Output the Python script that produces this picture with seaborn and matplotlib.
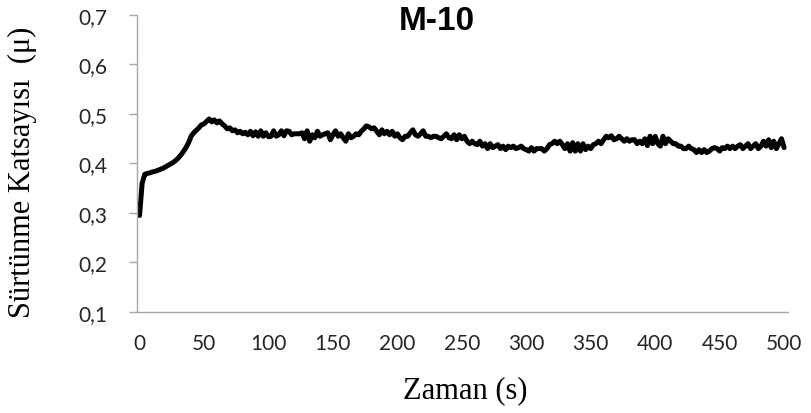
import numpy as np
import pandas as pd
import seaborn as sns
import matplotlib.pyplot as plt

# zaman (s), 2 s aralik
TIME_S = list(range(0, 502, 2))

# surtunme katsayisi, okunan degerler (her satir 50 s)
MU_0_48 = [0.295, 0.360, 0.378, 0.380, 0.381, 0.383, 0.384, 0.386, 0.388, 0.390,
           0.393, 0.396, 0.399, 0.402, 0.406, 0.411, 0.417, 0.424, 0.432, 0.442,
           0.455, 0.462, 0.467, 0.472, 0.478]
MU_50_98 = [0.480, 0.485, 0.490, 0.484, 0.488, 0.482, 0.486, 0.480, 0.476, 0.470,
            0.472, 0.466, 0.468, 0.462, 0.465, 0.460, 0.463, 0.458, 0.465, 0.456,
            0.464, 0.455, 0.466, 0.455, 0.462]
MU_100_148 = [0.454, 0.455, 0.466, 0.455, 0.458, 0.466, 0.456, 0.466, 0.465, 0.458,
              0.460, 0.460, 0.460, 0.462, 0.450, 0.466, 0.445, 0.458, 0.452, 0.465,
              0.455, 0.458, 0.460, 0.462, 0.448]
MU_150_198 = [0.458, 0.466, 0.455, 0.460, 0.452, 0.445, 0.460, 0.452, 0.455, 0.460,
              0.458, 0.465, 0.470, 0.476, 0.474, 0.470, 0.472, 0.465, 0.458, 0.468,
              0.460, 0.465, 0.458, 0.465, 0.455]
MU_200_248 = [0.460, 0.452, 0.448, 0.455, 0.455, 0.462, 0.468, 0.458, 0.455, 0.460,
              0.466, 0.455, 0.455, 0.452, 0.455, 0.455, 0.452, 0.450, 0.455, 0.460,
              0.452, 0.450, 0.458, 0.448, 0.458]
MU_250_298 = [0.450, 0.455, 0.445, 0.440, 0.445, 0.440, 0.438, 0.445, 0.435, 0.440,
              0.430, 0.440, 0.432, 0.435, 0.438, 0.430, 0.435, 0.428, 0.435, 0.432,
              0.435, 0.430, 0.432, 0.435, 0.430]
MU_300_348 = [0.428, 0.425, 0.432, 0.425, 0.430, 0.430, 0.430, 0.425, 0.430, 0.438,
              0.440, 0.445, 0.440, 0.445, 0.438, 0.430, 0.440, 0.425, 0.442, 0.425,
              0.440, 0.425, 0.440, 0.428, 0.435]
MU_350_398 = [0.430, 0.438, 0.440, 0.445, 0.440, 0.448, 0.455, 0.452, 0.456, 0.448,
              0.450, 0.455, 0.450, 0.445, 0.450, 0.445, 0.448, 0.448, 0.440, 0.445,
              0.440, 0.450, 0.436, 0.455, 0.440]
MU_400_448 = [0.455, 0.440, 0.435, 0.455, 0.440, 0.450, 0.445, 0.440, 0.440, 0.435,
              0.435, 0.430, 0.430, 0.435, 0.430, 0.428, 0.422, 0.428, 0.422, 0.428,
              0.422, 0.425, 0.430, 0.432, 0.430]
MU_450_500 = [0.425, 0.432, 0.430, 0.435, 0.430, 0.435, 0.430, 0.435, 0.438, 0.430,
              0.435, 0.440, 0.430, 0.435, 0.440, 0.430, 0.435, 0.445, 0.435, 0.448,
              0.432, 0.445, 0.430, 0.440, 0.450, 0.432]

MU = (MU_0_48 + MU_50_98 + MU_100_148 + MU_150_198 + MU_200_248
      + MU_250_298 + MU_300_348 + MU_350_398 + MU_400_448 + MU_450_500)

X_TICKS = [0, 50, 100, 150, 200, 250, 300, 350, 400, 450, 500]
Y_TICKS = [0.1, 0.2, 0.3, 0.4, 0.5, 0.6, 0.7]
Y_TICK_LABELS = ["0,1", "0,2", "0,3", "0,4", "0,5", "0,6", "0,7"]

df = pd.DataFrame({"zaman": TIME_S, "mu": MU})

sns.set_theme(style="white")
plt.rcParams["font.family"] = ["Lato", "DejaVu Sans"]

fig = plt.figure(figsize=(8.11, 4.14), dpi=100)
ax = fig.add_axes([0.1689, 0.2440, 0.8027, 0.7174])

sns.lineplot(data=df, x="zaman", y="mu", ax=ax, color="black", linewidth=3.6)

ax.set_xlim(-2, 503)
ax.set_ylim(0.1, 0.7)
ax.set_xticks(X_TICKS)
ax.set_yticks(Y_TICKS)
ax.set_yticklabels(Y_TICK_LABELS)

for side in ["top", "right"]:
    ax.spines[side].set_visible(False)
for side in ["left", "bottom"]:
    ax.spines[side].set_color("#a6a6a6")
    ax.spines[side].set_linewidth(1.0)

ax.tick_params(axis="x", length=0, pad=15, labelsize=15, labelcolor="#262626")
ax.tick_params(axis="y", length=6, width=1, color="#a6a6a6", direction="out",
               pad=15, labelsize=15, labelcolor="#262626", left=True)

ax.set_xlabel("Zaman (s)", family="Liberation Serif", fontsize=22, color="black")
ax.set_ylabel("Sürtünme Katsayısı  (μ)", family="Liberation Serif", fontsize=22,
              color="black")
ax.xaxis.set_label_coords(0.504, -0.212)
ax.yaxis.set_label_coords(-0.154, 0.475)

ax.text(0.461, 0.98, "M-10", transform=ax.transAxes, ha="center", va="center",
        family="Liberation Sans", fontweight="bold", fontsize=24, color="black")

plt.savefig("out.png", dpi=100)
plt.close()
